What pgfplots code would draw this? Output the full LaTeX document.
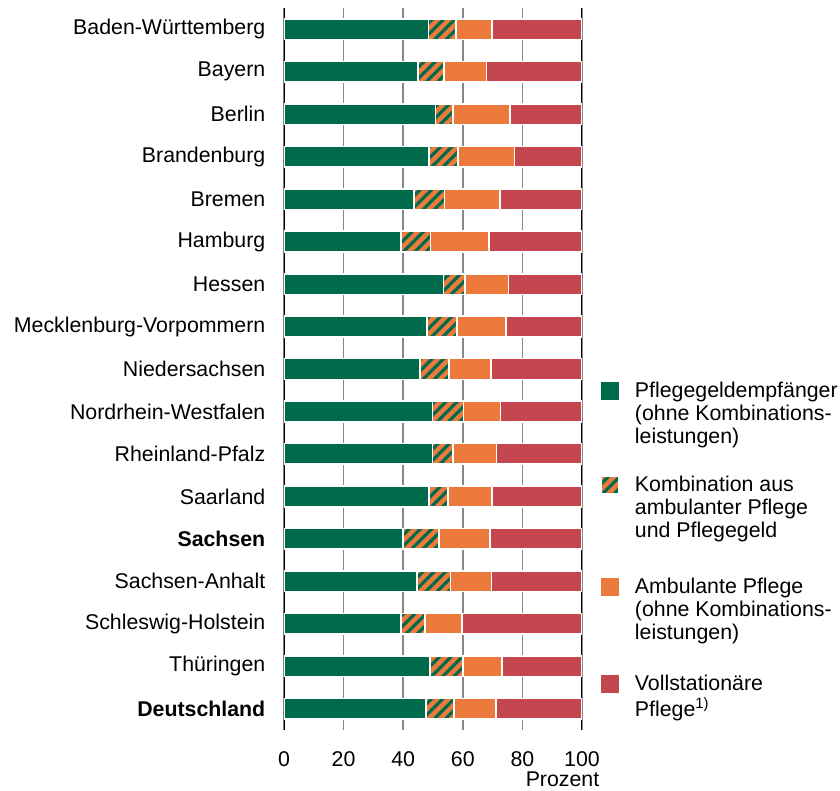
\documentclass[border=0pt]{standalone}
\usepackage{fontspec}
\setmainfont{Liberation Sans}
\usepackage{pgfplots}
\pgfplotsset{compat=1.18}
\usepackage{pgfplotstable}
\usetikzlibrary{patterns.meta}
\definecolor{cgreen}{RGB}{0,107,76}
\definecolor{corange}{RGB}{236,122,60}
\definecolor{cred}{RGB}{196,71,80}
\definecolor{cgrid}{RGB}{136,136,136}

\pgfplotstableread{
y g c a s
0 48.5 9.2 12.0 30.3
1 44.9 8.7 14.3 32.1
2 50.9 5.9 19.0 24.2
3 48.6 9.8 18.9 22.7
4 43.6 10.3 18.5 27.6
5 39.3 9.9 19.5 31.3
6 53.5 7.3 14.6 24.6
7 48.0 10.1 16.4 25.5
8 45.6 9.7 14.1 30.6
9 49.8 10.5 12.3 27.4
10 49.8 7.0 14.5 28.7
11 48.7 6.3 14.9 30.1
12 39.9 12.2 17.0 30.9
13 44.6 11.3 13.7 30.4
14 39.2 8.1 12.4 40.3
15 48.9 11.2 13.1 26.8
16 47.7 9.3 14.2 28.8
}\data

\pgfplotsset{mylegend/.style={legend image code/.code={\path[##1,draw=none] (0pt,-2pt) rectangle (13.5pt,11.5pt);}}}
\newcommand{\lt}[1]{\begin{tabular}[t]{@{}l@{}}#1\end{tabular}}

\begin{document}
\begin{tikzpicture}[font=\fontsize{16}{17.3}\selectfont]
\begin{axis}[name=ax, scale only axis, width=223.5pt, height=541.5pt,
 xbar stacked, bar width=15.5pt,
 xmin=0, xmax=100, ymin=-0.5, ymax=16.5, y dir=reverse,
 xtick={0,20,...,100}, ytick={0,...,16},
 yticklabels={Baden-Württemberg, Bayern, Berlin, Brandenburg, Bremen, Hamburg, Hessen, Mecklenburg-Vorpommern, Niedersachsen, Nordrhein-Westfalen, Rheinland-Pfalz, Saarland, \textbf{Sachsen}, Sachsen-Anhalt, Schleswig-Holstein, Thüringen, \textbf{Deutschland}},
 xmajorgrids, grid style={cgrid, line width=1.2pt},
 axis line style={draw=none}, major tick length=0pt,
 /pgf/number format/assume math mode=true,
 yticklabel style={xshift=-10.5pt},
 xticklabel style={yshift=-12.3pt},
 xlabel={Prozent},
 xlabel style={at={(axis description cs:1,0)}, anchor=north east, xshift=16.5pt, yshift=-27.75pt},
 legend style={draw=none, fill=none, inner sep=0pt, at={(1,1)}, anchor=north west, xshift=13.5pt, yshift=-279.5pt,
   nodes={inner sep=0pt, text depth=}, cells={anchor=base west}, row sep=18.7pt, column sep=11.3pt},
]
\addplot[fill=cgreen, draw=white, line width=1.2pt, mylegend] table[x=g, y=y] {\data};
\addlegendentry{\lt{Pflegegeldempfänger\\(ohne Kombinations-\\leistungen)}}
\addplot[fill=corange, draw=white, line width=1.2pt, postaction={pattern color=cgreen, pattern={Lines[angle=45,distance=6pt,line width=2.4pt]}}, mylegend] table[x=c, y=y] {\data};
\addlegendentry{\lt{Kombination aus\\ambulanter Pflege\\und Pflegegeld\rule[-11.2pt]{0pt}{1pt}}}
\addplot[fill=corange, draw=white, line width=1.2pt, mylegend] table[x=a, y=y] {\data};
\addlegendentry{\lt{Ambulante Pflege\\(ohne Kombinations-\\leistungen)\rule[-7.45pt]{0pt}{1pt}}}
\addplot[fill=cred, draw=white, line width=1.2pt, mylegend] table[x=s, y=y] {\data};
\addlegendentry{\lt{Vollstationäre\\Pflege\textsuperscript{1)}}}
\draw[black, line width=1.5pt] (axis description cs:0,0) -- (axis description cs:0,1);
\draw[black, line width=1.5pt] (axis description cs:1,0) -- (axis description cs:1,1);
\end{axis}
\pgfresetboundingbox
\path ([xshift=-213pt,yshift=6pt]ax.north west) rectangle ++(630pt,-593.25pt);
\end{tikzpicture}
\end{document}
